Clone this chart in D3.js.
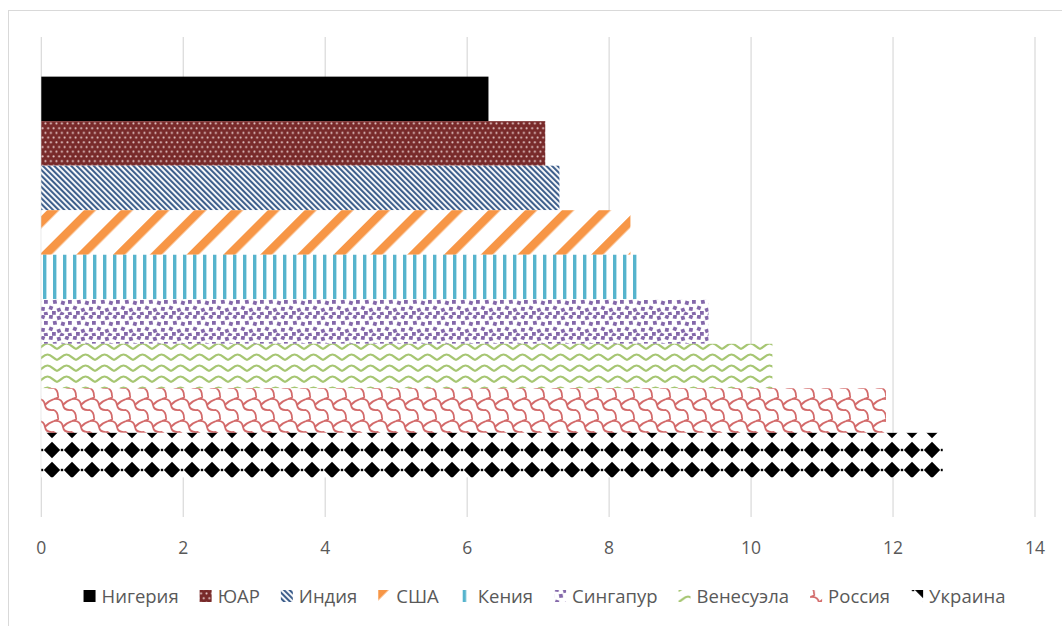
<!DOCTYPE html>
<html>
<head>
<meta charset="utf-8">
<script src="https://cdn.jsdelivr.net/npm/d3@7"></script>
<style>
  body { margin: 0; background: #fff; }
  svg { display: block; font-family: "Open Sans", sans-serif; }
</style>
</head>
<body>
<div id="chart"></div>
<script>
// data
var series = ["Нигерия", "ЮАР", "Индия", "США", "Кения", "Сингапур", "Венесуэла", "Россия", "Украина"];
var values = [6.3, 7.1, 7.3, 8.3, 8.4, 9.4, 10.3, 11.9, 12.7];
var xTicks = [0, 2, 4, 6, 8, 10, 12, 14];
var patternIds = ["p-ng", "p-za", "p-in", "p-us", "p-ke", "p-sg", "p-ve", "p-ru", "p-ua"];

var W = 1062, H = 626;
var plot = { left: 41.3, right: 1035, top: 37, bottom: 517 };

var svg = d3.select("#chart").append("svg")
    .attr("width", W)
    .attr("height", H);

svg.append("rect").attr("width", W).attr("height", H).attr("fill", "#fff");

// chart area border (runs off the right and bottom edge)
svg.append("rect")
    .attr("x", 8.5).attr("y", 10.5)
    .attr("width", W).attr("height", H)
    .attr("fill", "none")
    .attr("stroke", "#d9d9d9");

var defs = svg.append("defs");

function makePattern(id, w, h, opts) {
    var p = defs.append("pattern")
        .attr("id", id)
        .attr("patternUnits", "userSpaceOnUse")
        .attr("width", w)
        .attr("height", h);
    if (opts && opts.x != null) p.attr("x", opts.x);
    if (opts && opts.y != null) p.attr("y", opts.y);
    if (opts && opts.transform) p.attr("patternTransform", opts.transform);
    p.append("rect").attr("width", w).attr("height", h)
        .attr("fill", (opts && opts.bg) || "#fff");
    return p;
}

// Нигерия - solid black
makePattern("p-ng", 4, 4, { bg: "#000" });

// ЮАР - dark red with light dots
var za = makePattern("p-za", 5.5, 9.4, { bg: "#782a2a" });
za.append("circle").attr("cx", 1.4).attr("cy", 1.3).attr("r", 1).attr("fill", "#e8cccc");
za.append("circle").attr("cx", 4.15).attr("cy", 6).attr("r", 1).attr("fill", "#e8cccc");

// Индия - narrow "\" stripes
var ind = makePattern("p-in", 4, 4, { transform: "rotate(-45)" });
ind.append("rect").attr("width", 2.1).attr("height", 4).attr("fill", "#3e5f8c");

// США - wide "/" stripes
var us = makePattern("p-us", 26, 26, { transform: "rotate(45)" });
us.append("rect").attr("width", 8.5).attr("height", 26).attr("fill", "#f79646");

// Кения - vertical lines
var ke = makePattern("p-ke", 10, 10, { x: 3 });
ke.append("rect").attr("x", 0).attr("width", 3.4).attr("height", 10).attr("fill", "#56b4cd");

// Сингапур - purple confetti
var sg = makePattern("p-sg", 24, 21);
[[1, 0, 10], [9, 1, -15], [17, 0, 20], [5, 6, -10], [13, 7, 15], [20, 6, 0],
 [1, 12, 20], [9, 14, -20], [17, 13, 10], [4, 17, 0], [12, 18, 25], [20, 18, -10]].forEach(function(s) {
    sg.append("rect")
        .attr("x", s[0]).attr("y", s[1])
        .attr("width", 3.8).attr("height", 3.8)
        .attr("transform", "rotate(" + s[2] + "," + (s[0] + 1.9) + "," + (s[1] + 1.9) + ")")
        .attr("fill", "#8468aa");
});

// Венесуэла - green waves
var ve = makePattern("p-ve", 19, 11);
ve.append("path")
    .attr("d", "M-1,8 C3,8 5,2.5 9.5,2.5 C14,2.5 16,8 20,8")
    .attr("fill", "none").attr("stroke", "#a6c672").attr("stroke-width", 2.2);

// Россия - red shingles
var ru = makePattern("p-ru", 18, 22);
ru.append("path")
    .attr("d", "M0,3 Q8,2 9,9 Q10,15 18,14 M9,9 Q12,5 18,3 M0,14 Q4,16 4,22 M4,0 Q5,2 0,3")
    .attr("fill", "none").attr("stroke", "#d36a6a").attr("stroke-width", 1.8);

// Украина - black diamonds
var ua = makePattern("p-ua", 20, 20, { x: 2, y: 0 });
ua.append("path").attr("d", "M10,1.8 L18.2,10 L10,18.2 L1.8,10 Z").attr("fill", "#000");
ua.append("rect").attr("x", -1.2).attr("y", 8.8).attr("width", 2.4).attr("height", 2.4).attr("fill", "#000");
ua.append("rect").attr("x", 18.8).attr("y", 8.8).attr("width", 2.4).attr("height", 2.4).attr("fill", "#000");

var x = d3.scaleLinear().domain([0, 14]).range([plot.left, plot.right]);
var y = d3.scaleBand().domain(series).range([plot.top, plot.bottom])
    .paddingInner(0).paddingOuter(0.89);

// gridlines
svg.append("g").selectAll("line")
    .data(xTicks)
    .join("line")
    .attr("x1", function(d) { return x(d); })
    .attr("x2", function(d) { return x(d); })
    .attr("y1", plot.top)
    .attr("y2", plot.bottom)
    .attr("stroke", "#d9d9d9")
    .attr("stroke-width", 1.2);

// bars
svg.append("g").selectAll("rect")
    .data(series)
    .join("rect")
    .attr("x", x(0))
    .attr("y", function(d) { return y(d); })
    .attr("width", function(d, i) { return x(values[i]) - x(0); })
    .attr("height", y.bandwidth())
    .attr("fill", function(d, i) { return "url(#" + patternIds[i] + ")"; });

// tick labels
svg.append("g").selectAll("text")
    .data(xTicks)
    .join("text")
    .attr("x", function(d) { return x(d); })
    .attr("y", 554)
    .attr("text-anchor", "middle")
    .attr("font-size", 17.5)
    .attr("fill", "#595959")
    .text(function(d) { return d; });

// legend
var legend = svg.append("g");
var items = legend.selectAll("g")
    .data(series)
    .join("g");
items.append("rect")
    .attr("width", 12).attr("height", 12)
    .attr("y", 590)
    .attr("fill", function(d, i) { return "url(#" + patternIds[i] + ")"; });
items.append("text")
    .attr("x", 18)
    .attr("y", 602.5)
    .attr("font-size", 18.5)
    .attr("fill", "#595959")
    .text(function(d) { return d; });

var offsets = [];
var pos = 0;
items.each(function() {
    var t = d3.select(this).select("text").node();
    offsets.push(pos);
    pos += 18 + t.getComputedTextLength() + 21;
});
var total = pos - 21;
var start = 544.5 - total / 2;
items.attr("transform", function(d, i) { return "translate(" + (start + offsets[i]) + ",0)"; });
items.select("rect").attr("x", 0);
</script>
</body>
</html>
